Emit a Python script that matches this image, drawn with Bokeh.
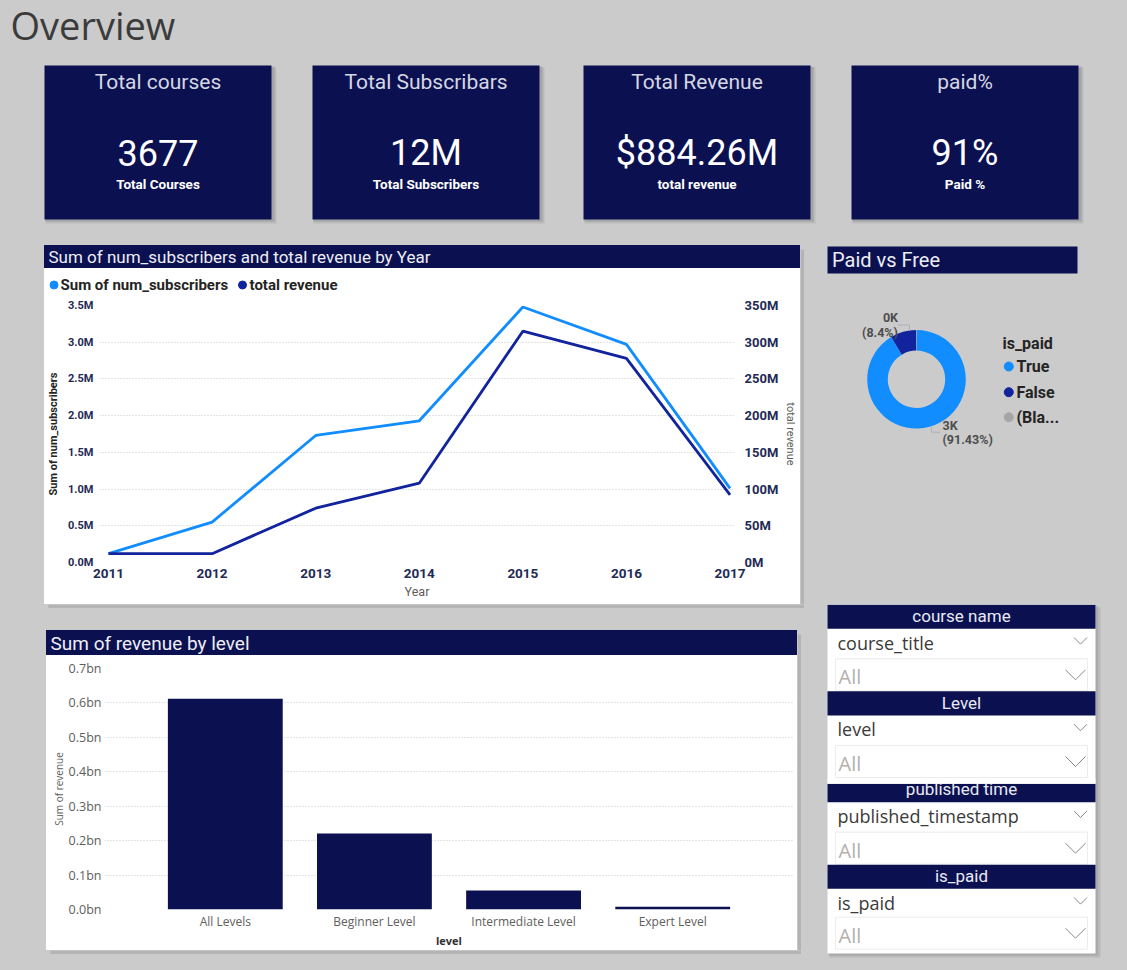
import math
from bokeh.plotting import figure
from bokeh.layouts import row, column
from bokeh.models import (Range1d, FactorRange, LinearAxis, FixedTicker,
                          CustomJSTickFormatter, ColumnDataSource)
from bokeh.core.properties import value
from bokeh.embed import file_html
from bokeh.resources import INLINE

# ---------------- data ----------------
years = [2011, 2012, 2013, 2014, 2015, 2016, 2017]
num_subscribers = [0.12e6, 0.55e6, 1.73e6, 1.93e6, 3.48e6, 2.97e6, 1.01e6]
total_revenue = [12e6, 12e6, 74e6, 108e6, 315e6, 278e6, 92e6]
subscriber_ticks = [0, 0.5e6, 1.0e6, 1.5e6, 2.0e6, 2.5e6, 3.0e6, 3.5e6]
revenue_ticks = [0, 50e6, 100e6, 150e6, 200e6, 250e6, 300e6, 350e6]
subs_name = "Sum of num_subscribers"
rev_name = "total revenue"

levels = ["All Levels", "Beginner Level", "Intermediate Level", "Expert Level"]
level_revenue = [0.612e9, 0.221e9, 0.055e9, 0.008e9]
level_ticks = [0, 0.1e9, 0.2e9, 0.3e9, 0.4e9, 0.5e9, 0.6e9, 0.7e9]

paid_field = "is_paid"
paid_groups = ["True", "False", "(Bla..."]
paid_pct = [91.43, 8.4, 0.17]
paid_counts = ["3K", "0K", ""]

kpi_titles = ["Total courses", "Total Subscribars", "Total Revenue", "paid%"]
kpi_values = ["3677", "12M", "$884.26M", "91%"]
kpi_captions = ["Total Courses", "Total Subscribers", "total revenue", "Paid %"]

slicer_titles = ["course name", "Level", "published time", "is_paid"]
slicer_fields = ["course_title", "level", "published_timestamp", "is_paid"]
slicer_choice = "All"

# ---------------- styling ----------------
BG = "#cbcbcb"
NAVY = "#0b1150"
BLUE = "#118dff"
DARK_BLUE = "#12239e"
BLANK = "#a6a6a6"
TICK = "#232a55"
GREY_TXT = "#605e5c"
GRID = "#c9c9c9"
LAYOUT_STYLE = {"background-color": BG}
WHITE_STYLE = {"background-color": "white"}


def panel(x, y, w, h, fill=BG, flip=True):
    """Blank drawing surface whose data space is the page rectangle it covers."""
    yr = Range1d(y + h, y) if flip else Range1d(-(y + h), -y)
    p = figure(width=w, height=h, x_range=Range1d(x, x + w), y_range=yr,
               x_axis_location=None, y_axis_location=None,
               output_backend="svg", toolbar_location=None, min_border=0,
               frame_align=False, styles={"background-color": fill})
    p.grid.visible = False
    p.outline_line_color = None
    p.background_fill_color = fill
    p.border_fill_color = fill
    return p


def label(p, x, base, s, size, color, font="Roboto", style="normal", align="left", up=False):
    """Place a text by its baseline (page y); drawn centred on its cap height."""
    cy = base - 0.35 * size
    p.text(x=[x], y=[-cy if up else cy], text=[s], text_font=value(font),
           text_font_size=f"{size}px", text_font_style=style, text_color=color,
           text_align=align, text_baseline="middle")


def shadow(p, left, right, top, bottom):
    p.quad(left=left, right=right, top=top, bottom=bottom,
           fill_color="#b4b4b4", line_color=None)


def bare_axes(p):
    for ax in p.axis:
        ax.axis_line_color = None
        ax.major_tick_line_color = None
        ax.minor_tick_line_color = None
        ax.major_tick_out = 0
        ax.major_tick_in = 0
        ax.minor_tick_out = 0
        ax.minor_tick_in = 0


# ---------------- header + KPI cards ----------------
top = panel(0, 0, 1127, 245)
label(top, 10, 37.5, "Overview", 38, "#3b3b3b", font="Open Sans")
card_left = [44, 312, 583, 851]
card_w = 227
for i, l in enumerate(card_left):
    top.quad(left=l + 1, right=l + card_w + 5, top=67, bottom=223,
             fill_color="#9a9a9a", fill_alpha=0.35, line_color=None)
    top.quad(left=l + 1, right=l + card_w + 3, top=66, bottom=221,
             fill_color="#8a8a8a", fill_alpha=0.45, line_color=None)
    top.quad(left=l, right=l + card_w, top=65, bottom=219, fill_color=NAVY, line_color=None)
    cx = l + card_w / 2
    label(top, cx, 88.5, kpi_titles[i], 21, "#d5d7e3", align="center")
    label(top, cx, 165, kpi_values[i], 36, "white", align="center")
    label(top, cx, 188.5, kpi_captions[i], 13.5, "white", style="bold", align="center")

# ---------------- line chart panel ----------------
line_title = panel(44, 245, 756, 23, fill=NAVY)
label(line_title, 48, 262, "Sum of num_subscribers and total revenue by Year", 17, "#eeeef5")

line_legend = panel(44, 268, 756, 28, fill="white")
line_legend.scatter(x=[53.5, 242], y=[284.5, 284.5], size=8, color=[BLUE, DARK_BLUE])
label(line_legend, 60, 289.8, subs_name, 15, "#252423", style="bold")
label(line_legend, 249, 289.8, rev_name, 15, "#252423", style="bold")

lc = figure(width=756, height=308,
            x_range=Range1d(years[0] - 0.087, years[-1] + 0.043),
            y_range=Range1d(subscriber_ticks[0], subscriber_ticks[-1]),
            output_backend="svg", toolbar_location=None, frame_align=False,
            styles=WHITE_STYLE,
            min_border_left=55, min_border_right=65, min_border_top=9, min_border_bottom=42)
lc.extra_y_ranges = {"revenue": Range1d(revenue_ticks[0], revenue_ticks[-1])}
lc.add_layout(LinearAxis(y_range_name="revenue"), "right")
lc.background_fill_color = "white"
lc.border_fill_color = "white"
lc.outline_line_color = None
lc.xgrid.visible = False
lc.ygrid.grid_line_color = GRID
lc.ygrid.grid_line_dash = "1 2"
bare_axes(lc)
for ax in lc.axis:
    ax.major_label_text_font = "Roboto"
    ax.major_label_text_font_style = "bold"
    ax.major_label_text_color = TICK
    ax.axis_label_text_font = "Roboto"

xa = lc.below[0]
xa.ticker = FixedTicker(ticks=years)
xa.major_label_text_font_size = "13.5px"
xa.major_label_standoff = 6
xa.axis_label = "Year"
xa.axis_label_text_font_size = "12.5px"
xa.axis_label_text_font_style = "normal"
xa.axis_label_text_color = GREY_TXT
xa.axis_label_standoff = 3

ya = lc.left[0]
ya.ticker = FixedTicker(ticks=subscriber_ticks)
ya.formatter = CustomJSTickFormatter(code="return (tick / 1e6).toFixed(1) + 'M';")
ya.major_label_text_font_size = "11px"
ya.major_label_standoff = 6
ya.axis_label = subs_name
ya.axis_label_text_font_size = "11px"
ya.axis_label_text_font_style = "bold"
ya.axis_label_text_color = "#252423"
ya.axis_label_standoff = 5

ra = lc.right[0]
ra.ticker = FixedTicker(ticks=revenue_ticks)
ra.formatter = CustomJSTickFormatter(code="return (tick / 1e6).toFixed(0) + 'M';")
ra.major_label_text_font_size = "13px"
ra.major_label_standoff = 10
ra.axis_label = rev_name
ra.axis_label_text_font_size = "11px"
ra.axis_label_text_font_style = "normal"
ra.axis_label_text_color = GREY_TXT
ra.axis_label_standoff = 3

lc.line(years, num_subscribers, line_color=BLUE, line_width=2.8)
lc.line(years, total_revenue, y_range_name="revenue", line_color=DARK_BLUE, line_width=2.8)

# ---------------- bar chart panel ----------------
bar_title = panel(46, 630, 751, 25, fill=NAVY)
label(bar_title, 50, 650, "Sum of revenue by level", 19, "#eeeef5")

bc = figure(width=751, height=295,
            x_range=FactorRange(factors=levels, range_padding=0.155),
            y_range=Range1d(level_ticks[0], level_ticks[-1]),
            output_backend="svg", toolbar_location=None, frame_align=False,
            styles=WHITE_STYLE,
            min_border_left=58, min_border_right=4, min_border_top=13, min_border_bottom=39)
bc.background_fill_color = "white"
bc.border_fill_color = "white"
bc.outline_line_color = None
bc.xgrid.visible = False
bc.ygrid.grid_line_color = GRID
bc.ygrid.grid_line_dash = "1 2"
bare_axes(bc)
for ax in bc.axis:
    ax.major_label_text_font = "Open Sans"
    ax.major_label_text_color = GREY_TXT
    ax.axis_label_text_font = "Open Sans"

bx = bc.below[0]
bx.major_label_text_font_size = "12px"
bx.major_label_standoff = 3
bx.axis_label = "level"
bx.axis_label_text_font_size = "11px"
bx.axis_label_text_font_style = "bold"
bx.axis_label_text_color = "#323130"
bx.axis_label_standoff = 0

by = bc.left[0]
by.ticker = FixedTicker(ticks=level_ticks)
by.formatter = CustomJSTickFormatter(code="return (tick / 1e9).toFixed(1) + 'bn';")
by.major_label_text_font_size = "12.5px"
by.major_label_standoff = 3
by.axis_label = "Sum of revenue"
by.axis_label_text_font_size = "10px"
by.axis_label_text_font_style = "normal"
by.axis_label_text_color = GREY_TXT
by.axis_label_standoff = 0

bc.vbar(x=levels, top=level_revenue, width=0.77, fill_color=NAVY, line_color=None)

# ---------------- gaps around the panels (with drop shadows) ----------------
lgap1 = panel(0, 245, 44, 359)
rgap1 = panel(800, 245, 20, 359)
shadow(rgap1, 800, 803.5, 249, 607.5)
midgap = panel(0, 604, 820, 26)
shadow(midgap, 48, 803.5, 604, 607.5)
lgap2 = panel(0, 630, 46, 320)
rgap2 = panel(797, 630, 23, 320)
shadow(rgap2, 797, 800.5, 634, 953.5)
botgap = panel(0, 950, 820, 20)
shadow(botgap, 50, 800.5, 950, 953.5)

# ---------------- donut: paid vs free ----------------
dn = panel(820, 245, 307, 359, flip=False)   # y axis points up: y = -page_y
dn.quad(left=827, right=1077, top=-246, bottom=-273, fill_color=NAVY, line_color=None)
label(dn, 831.5, 266.5, "Paid vs Free", 20, "#eeeef5", up=True)

total = sum(paid_pct)
starts, ends, acc = [], [], 0.0
for v in paid_pct:
    starts.append(math.pi / 2 - 2 * math.pi * acc / total)
    acc += v
    ends.append(math.pi / 2 - 2 * math.pi * acc / total)
donut_src = ColumnDataSource(dict(x=[916] * 3, y=[-378.8] * 3, start=starts, end=ends,
                                  color=[BLUE, DARK_BLUE, BLANK]))
dn.annular_wedge(x="x", y="y", inner_radius=28.7, outer_radius=49.3,
                 start_angle="start", end_angle="end", direction="clock",
                 fill_color="color", line_color=None, source=donut_src)

# data labels with leader lines
dn.line(x=[897.5, 909, 909], y=[-324.5, -324.5, -330.5], line_color="#b0b0b0", line_width=1)
label(dn, 897.5, 321.7, paid_counts[1], 12.5, "#4d4d4d", style="bold", align="right", up=True)
label(dn, 897.5, 336, f"({paid_pct[1]}%)", 12.5, "#4d4d4d", style="bold", align="right", up=True)
dn.line(x=[931, 931, 940], y=[-426.5, -431.7, -431.7], line_color="#b0b0b0", line_width=1)
label(dn, 942, 429.3, paid_counts[0], 12.5, "#4d4d4d", style="bold", up=True)
label(dn, 942, 443.3, f"({paid_pct[0]}%)", 12.5, "#4d4d4d", style="bold", up=True)

# legend
label(dn, 1002, 348.3, paid_field, 16, "#252423", style="bold", up=True)
leg_y = [366, 391.7, 416.7]
dn.scatter(x=[1008.3] * 3, y=[-v for v in leg_y], size=9, color=[BLUE, DARK_BLUE, BLANK])
for g, yy in zip(paid_groups, leg_y):
    label(dn, 1016, yy + 5.6, g, 16, "#252423", style="bold", up=True)

# ---------------- slicers ----------------
sl = panel(820, 604, 307, 366)
sl.quad(left=829, right=1100, top=607, bottom=957, fill_color="#a8a8a8", fill_alpha=0.5, line_color=None)
sl.quad(left=828, right=1097.5, top=605.5, bottom=955, fill_color="#999999", fill_alpha=0.5, line_color=None)
sl.quad(left=827, right=1095, top=604, bottom=953, fill_color="white", line_color=None)

head_top = [604.3, 690.7, 783.3, 864.3]
head_bottom = [628.3, 715.0, 801.7, 888.3]
head_base = [621.7, 708.1, 794.3, 881.7]
box_gap = [30, 30, 30, 28.4]
for i in range(4):
    ht, hb = head_top[i], head_bottom[i]
    sl.quad(left=827, right=1095, top=ht, bottom=hb, fill_color=NAVY, line_color=None)
    label(sl, 961, head_base[i], slicer_titles[i], 17, "#e9eaf2", align="center")
    label(sl, 837, hb + 20, slicer_fields[i], 18, "#3b3a39", font="Open Sans")
    sl.line(x=[1073.5, 1080, 1086.5], y=[hb + 8.7, hb + 15.3, hb + 8.7],
            line_color="#8a8886", line_width=1)
    bt = hb + box_gap[i]
    sl.quad(left=835, right=1087, top=bt, bottom=bt + 32, fill_color="white",
            line_color="#ececec", line_width=1)
    label(sl, 838, bt + 25, slicer_choice, 20, "#b3b0ad", font="Open Sans")
    sl.line(x=[1065, 1075, 1085], y=[bt + 11, bt + 21, bt + 11],
            line_color="#8a8886", line_width=1)
# the third header's caption is cut off by the slicer above it
sl.quad(left=827, right=1095, top=778.6, bottom=783.3, fill_color="white", line_color=None)

# ---------------- page layout ----------------
line_panel = column(line_title, line_legend, lc, styles=WHITE_STYLE)
line_row = row(lgap1, line_panel, rgap1, styles=LAYOUT_STYLE)
bar_panel = column(bar_title, bc, styles=WHITE_STYLE)
bar_row = row(lgap2, bar_panel, rgap2, styles=LAYOUT_STYLE)
left = column(line_row, midgap, bar_row, botgap, styles=LAYOUT_STYLE)
right = column(dn, sl, styles=LAYOUT_STYLE)
page = column(top, row(left, right, styles=LAYOUT_STYLE), styles=LAYOUT_STYLE)

open("out.html", "w").write(file_html(page, INLINE))
